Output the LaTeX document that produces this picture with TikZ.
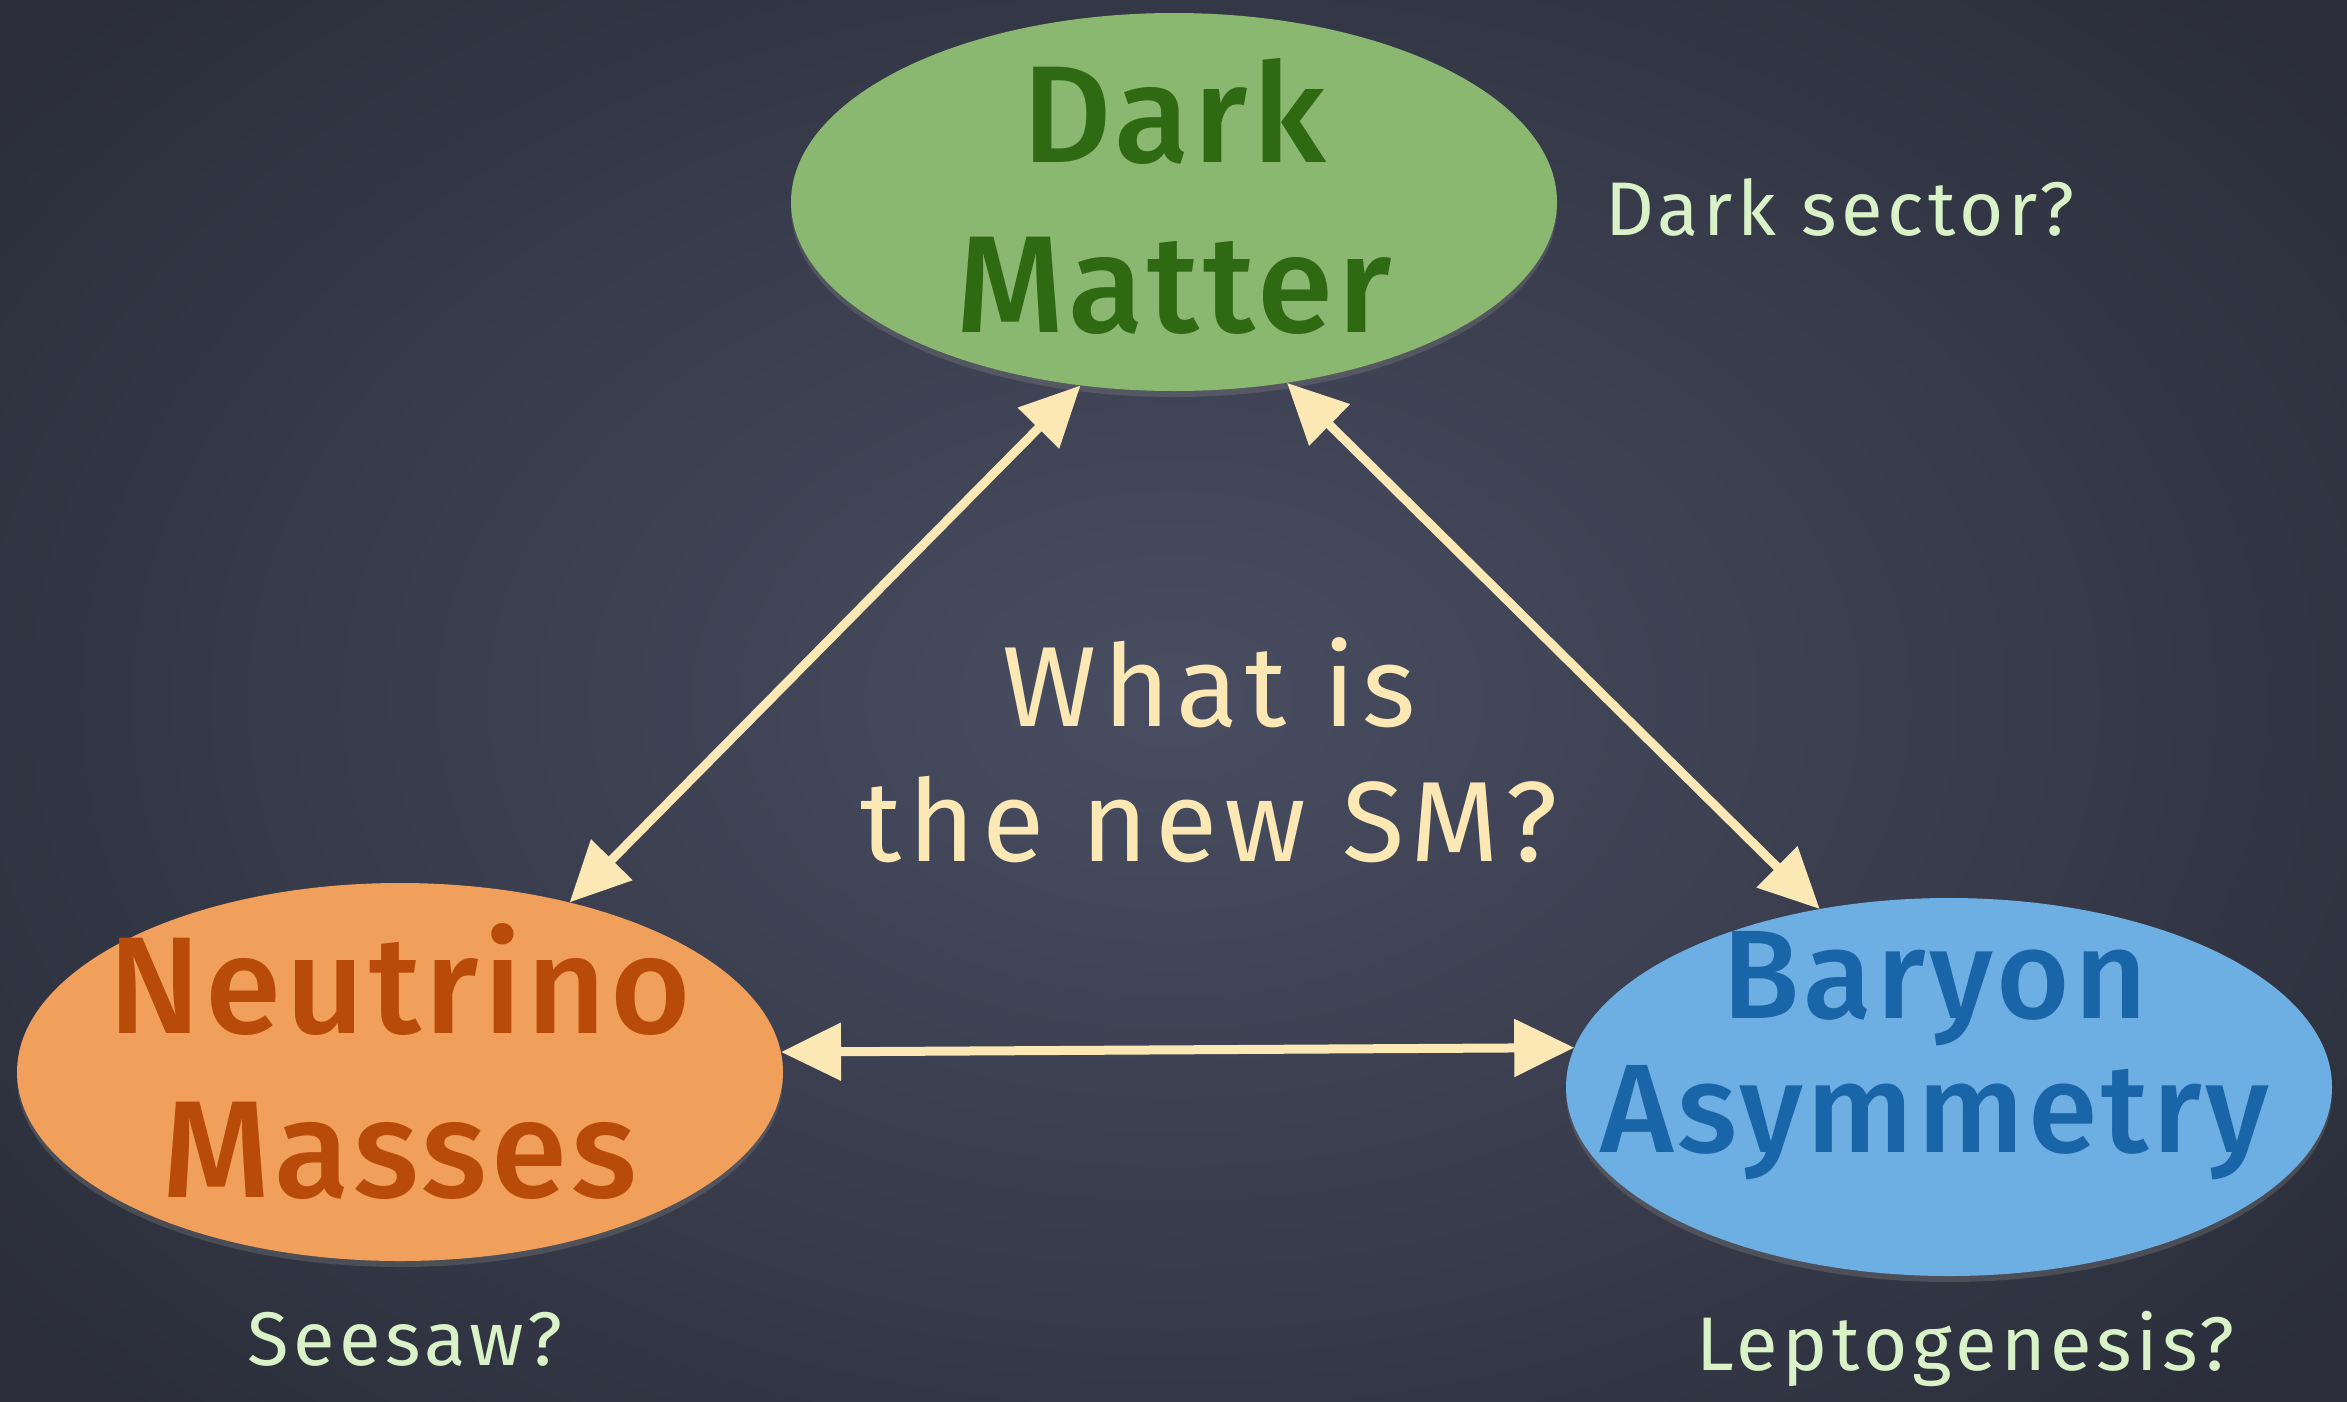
\documentclass[tikz,border=0pt]{standalone}
\usepackage{fontspec}
\setmainfont{Fira Sans}
\newfontfamily\widechalk[LetterSpace=6]{Fira Sans}
\newfontfamily\boldchalk[LetterSpace=3]{Fira Sans Medium}
\usetikzlibrary{shapes.geometric,arrows.meta,shadows}

\definecolor{boardlight}{HTML}{484D61}
\definecolor{boarddark}{HTML}{2B2E3A}
\definecolor{chalk}{HTML}{FCE8B4}
\definecolor{chalkgreen}{HTML}{D9F2C8}
\definecolor{dmfill}{HTML}{8BB870}
\definecolor{dmtext}{HTML}{2F6A12}
\definecolor{nufill}{HTML}{F0A05A}
\definecolor{nutext}{HTML}{B84A0A}
\definecolor{bafill}{HTML}{6EAFE3}
\definecolor{batext}{HTML}{1A64A8}

\tikzset{
  bubble/.style={ellipse, draw=none, inner sep=0pt,
    minimum width=766pt, minimum height=378pt,
    drop shadow={opacity=0.35, shadow xshift=0pt, shadow yshift=-6pt}},
  bigword/.style={anchor=base, inner sep=0pt,
    font=\boldchalk\fontsize{138}{138}\selectfont},
  midword/.style={anchor=base, inner sep=0pt,
    font=\boldchalk\fontsize{126}{126}\selectfont},
  centreword/.style={anchor=base, inner sep=0pt, text=chalk,
    font=\widechalk\fontsize{114}{114}\selectfont},
  sidenote/.style={anchor=base west, inner sep=0pt, text=chalkgreen,
    font=\widechalk\fontsize{76}{76}\selectfont},
  link/.style={draw=chalk, line width=9pt, line cap=round,
    {Triangle[length=60pt,width=56pt,fill=chalk]}-{Triangle[length=60pt,width=56pt,fill=chalk]}}
}

\begin{document}
\begin{tikzpicture}[x=1pt,y=-1pt]
  % chalkboard
  \useasboundingbox (0,0) rectangle (2347,1401);
  \fill[boarddark] (0,0) rectangle (2347,1401);
  \shade[inner color=boardlight, outer color=boarddark] (-300,-300) rectangle (2647,1701);

  % the three topics
  \node[bubble, fill=dmfill] (dm) at (1174,202) {};
  \node[bubble, fill=nufill] (nu) at (400,1072) {};
  \node[bubble, fill=bafill] (ba) at (1949,1087) {};

  \node[bigword, text=dmtext] (dmA) at (1174,162) {Dark};
  \node[bigword, text=dmtext] (dmB) at (1174,332) {Matter};
  \node[bigword, text=nutext] (nuA) at (400,1033) {Neutrino};
  \node[bigword, text=nutext] (nuB) at (400,1197) {Masses};
  \node[midword, text=batext] (baA) at (1935,1018) {Baryon};
  \node[midword, text=batext] (baB) at (1935,1152) {Asymmetry};

  % question in the middle
  \node[centreword] (qA) at (1209,726) {What is};
  \node[centreword] (qB) at (1209,861) {the new SM?};

  % side notes
  \node[sidenote] (ds) at (1605,235) {Dark sector?};
  \node[sidenote] (ss) at (247,1365) {Seesaw?};
  \node[sidenote] (lg) at (1696,1370) {Leptogenesis?};

  % connections
  \draw[link] (dm.243) -- (nu.45);
  \draw[link] (dm.302) -- (ba.126);
  \draw[link] (nu.3.5) -- (ba.174);
\end{tikzpicture}
\end{document}
